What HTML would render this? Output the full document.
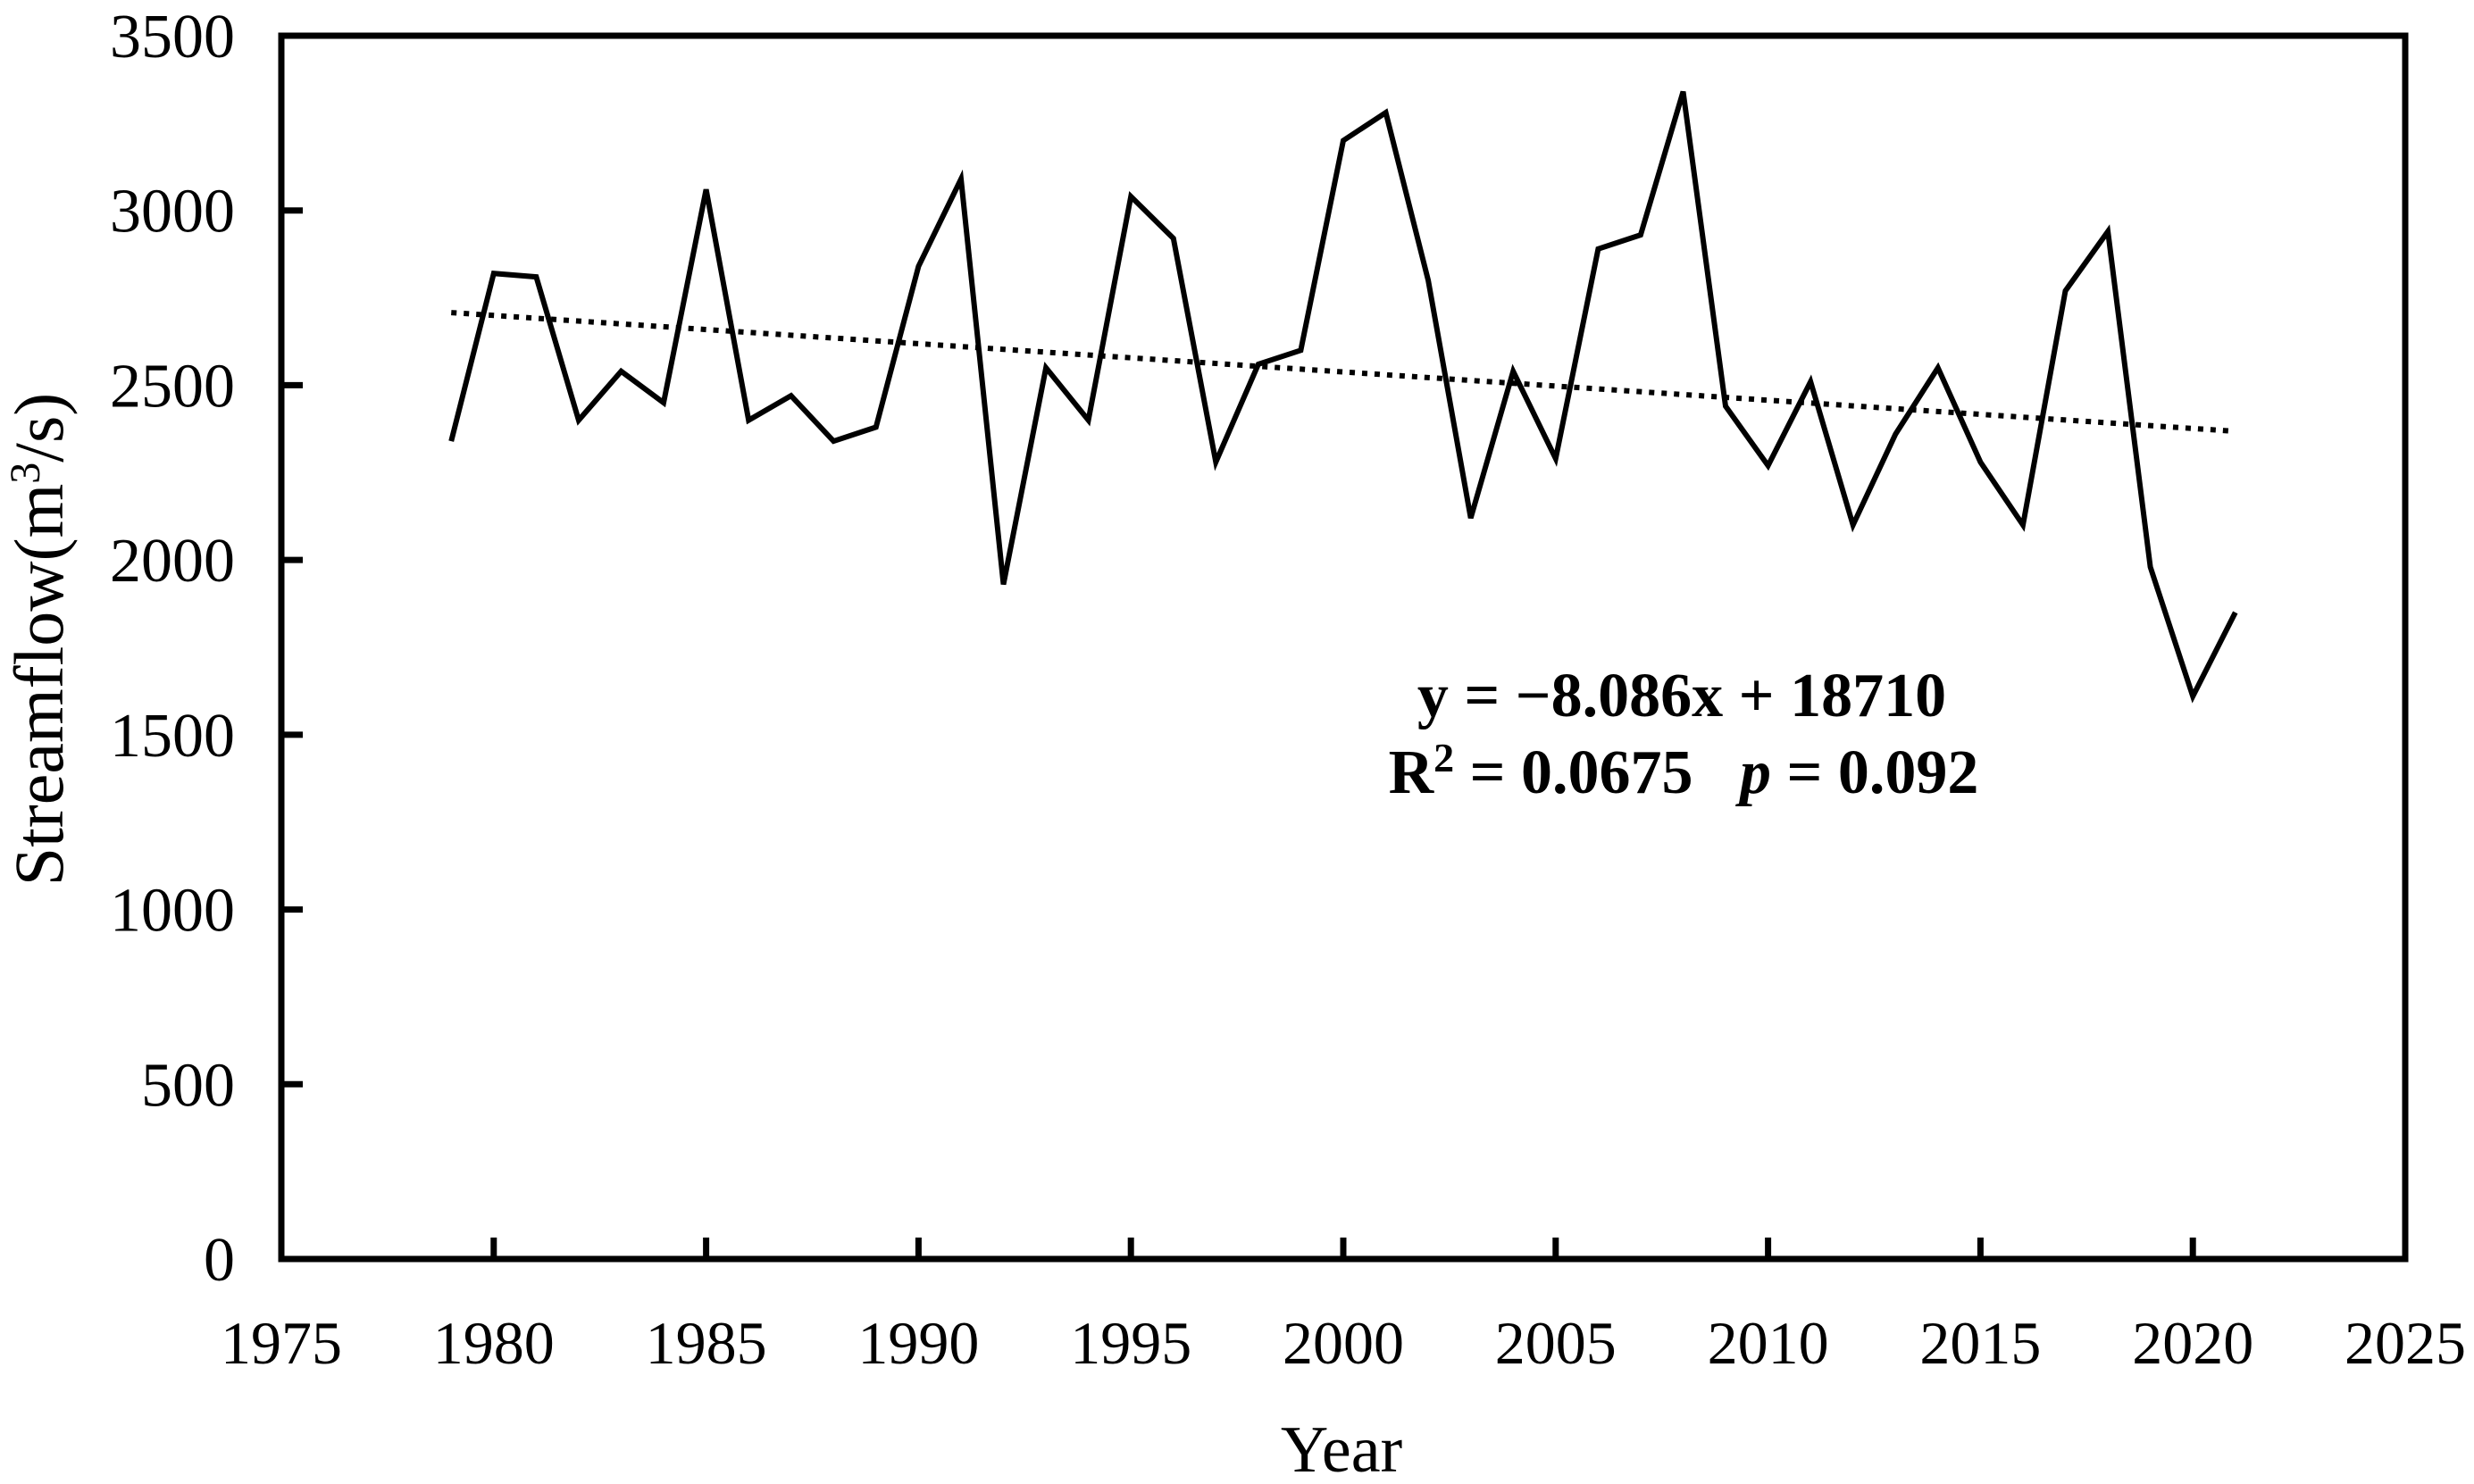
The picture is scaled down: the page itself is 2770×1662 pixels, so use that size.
<!DOCTYPE html>
<html><head><meta charset="utf-8"><style>
html,body{margin:0;padding:0;background:#fff;}
svg{display:block;font-family:"Liberation Serif",serif;}
</style></head><body>
<svg id="chart" width="2770" height="1662" viewBox="0 0 2770 1662">
<g id="axes"></g>
<g id="marks"></g>
<text x="1883" y="802" text-anchor="middle" font-size="70" font-weight="bold">y = −8.086x + 18710</text>
<text x="1885" y="888" text-anchor="middle" font-size="70" font-weight="bold">R<tspan dy="-24" font-size="46">2</tspan><tspan dy="24"> = 0.0675&#160;&#160;&#160;</tspan><tspan font-style="italic">p</tspan> = 0.092</text>
<text x="1502" y="1648" text-anchor="middle" font-size="74">Year</text>
<text transform="translate(70,716) rotate(-90)" text-anchor="middle" font-size="78">Streamflow(m<tspan dy="-26" font-size="48">3</tspan><tspan dy="26">/s)</tspan></text>
</svg>
<script>
const years = [1979,1980,1981,1982,1983,1984,1985,1986,1987,1988,1989,1990,1991,1992,1993,1994,1995,1996,1997,1998,1999,2000,2001,2002,2003,2004,2005,2006,2007,2008,2009,2010,2011,2012,2013,2014,2015,2016,2017,2018,2019,2020,2021];
const streamflow = [2340,2820,2810,2400,2540,2450,3060,2400,2470,2340,2380,2840,3090,1930,2550,2400,3040,2920,2280,2560,2600,3200,3280,2800,2120,2540,2290,2890,2930,3340,2440,2270,2510,2100,2360,2550,2280,2100,2770,2940,1980,1610,1850];
const xTicks = [1975,1980,1985,1990,1995,2000,2005,2010,2015,2020,2025];
const yTicks = [0,500,1000,1500,2000,2500,3000,3500];
const trendSlope = -8.086;
const trendIntercept = 18710;

const L=315,R=2693,T=40,B=1410;
const xMin=1975,xMax=2025,yMin=0,yMax=3500;
const sx=v=>L+(v-xMin)/(xMax-xMin)*(R-L);
const sy=v=>B-(v-yMin)/(yMax-yMin)*(B-T);
const NS="http://www.w3.org/2000/svg";
const axes=document.getElementById('axes'), marks=document.getElementById('marks');
function mk(tag,attrs,parent){const e=document.createElementNS(NS,tag);for(const k in attrs)e.setAttribute(k,attrs[k]);parent.appendChild(e);return e;}

const frame=mk('rect',{x:L,y:T,width:R-L,height:B-T,fill:'none',stroke:'#000','stroke-width':7},axes);



xTicks.forEach(t=>{
  const x=sx(t);
  if(t>xMin&&t<xMax){const l=mk('line',{x1:x,x2:x,y1:B,y2:B-24,stroke:'#000','stroke-width':7},axes);
  
  }
  const tx=mk('text',{x:x,y:1527,'text-anchor':'middle','font-size':68},axes);
  tx.textContent=t;
  
  
});
yTicks.forEach(t=>{
  const y=sy(t);
  if(t>yMin&&t<yMax){const l=mk('line',{x1:L,x2:L+24,y1:y,y2:y,stroke:'#000','stroke-width':7},axes);
  
  }
  const tx=mk('text',{x:263,y:y+24,'text-anchor':'end','font-size':70},axes);
  tx.textContent=t;
  
  
});

const x0=years[0],x1=years[years.length-1];
const trend=mk('line',{x1:sx(x0),y1:sy(trendSlope*x0+trendIntercept),x2:sx(x1),y2:sy(trendSlope*x1+trendIntercept),stroke:'#000','stroke-width':6,'stroke-dasharray':'6 8'},marks);



const pts=years.map((y,i)=>sx(y).toFixed(1)+','+sy(streamflow[i]).toFixed(1)).join(' ');
const line=mk('polyline',{points:pts,fill:'none',stroke:'#000','stroke-width':6,'stroke-linejoin':'miter'},marks);


</script>
</body></html>
